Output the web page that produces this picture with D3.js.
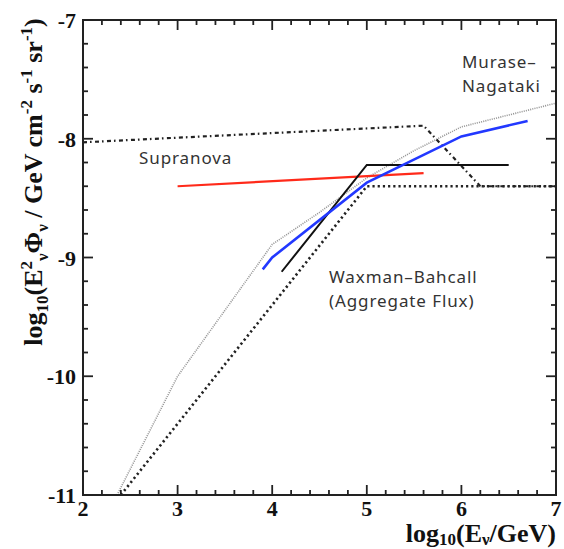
<!DOCTYPE html>
<meta charset="utf-8">
<script src="https://d3js.org/d3.v7.min.js"></script>
<style>
  body { margin: 0; background: #fff; }
  .tick-label { font-family: "Liberation Serif", "Times New Roman", serif; font-weight: bold; font-size: 22px; fill: #111; }
  .axis-title { font-family: "Liberation Serif", "Times New Roman", serif; font-weight: bold; font-size: 26px; fill: #111; }
  .note { font-family: "Noto Sans", "DejaVu Sans", sans-serif; font-size: 17px; letter-spacing: 0.9px; fill: #333; }
</style>
<div id="chart"></div>
<script>
// model curves: [log10 E/GeV, log10 E^2 flux]
var supranova = [[2, -8.03], [5.6, -7.89], [6.2, -8.40], [7, -8.40]]
var waxmanBahcall = [[2.4, -11], [5, -8.40], [7, -8.40]]
var muraseNagataki = [[2.36, -11], [3, -10], [4, -8.89], [4.5, -8.62], [5, -8.33], [5.5, -8.10], [6, -7.90], [7, -7.70]]
var blueLimit = [[3.9, -9.10], [4, -9.0], [5, -8.37], [6, -7.98], [6.7, -7.85]]
var blackLimit = [[4.1, -9.12], [5, -8.22], [6.5, -8.22]]
var redLimit = [[3, -8.40], [5.6, -8.29]]

var xTicks = [2, 3, 4, 5, 6, 7]
var yTicks = [-7, -8, -9, -10, -11]

var W = 564, H = 549
var x = d3.scaleLinear().domain([2, 7]).range([83, 556])
var y = d3.scaleLinear().domain([-11, -7]).range([495, 20])

var svg = d3.select("#chart").append("svg")
  .attr("width", W).attr("height", H)

svg.append("defs").append("clipPath").attr("id", "plot")
  .append("rect").attr("x", x(2)).attr("y", y(-7))
  .attr("width", x(7) - x(2)).attr("height", y(-11) - y(-7))

var line = d3.line().x(d => x(d[0])).y(d => y(d[1]))
var g = svg.append("g").attr("clip-path", "url(#plot)")

function curve(data, color, width, dash, cap) {
  g.append("path").datum(data)
    .attr("fill", "none")
    .attr("stroke", color)
    .attr("stroke-width", width)
    .attr("stroke-dasharray", dash)
    .attr("stroke-linecap", cap || "butt")
    .attr("d", line)
}

curve(muraseNagataki, "#999", 1.6, "1.1,1.1")
curve(waxmanBahcall, "#222", 2.6, "2.2,3")
curve(supranova, "#222", 2.2, "4,3,1.6,3.4")
curve(redLimit, "#ff2a1a", 2.2, null)
curve(blackLimit, "#111", 2, null)
curve(blueLimit, "#2238ff", 2.6, null)

// frame
svg.append("rect").attr("x", x(2)).attr("y", y(-7))
  .attr("width", x(7) - x(2)).attr("height", y(-11) - y(-7))
  .attr("fill", "none").attr("stroke", "#222").attr("stroke-width", 2)

// ticks on all four sides, pointing in
var xMinor = d3.range(2, 7.001, 0.2)
var yMinor = d3.range(-11, -6.999, 0.2)
var tk = svg.append("g").attr("stroke", "#222").attr("stroke-width", 1.8)
xMinor.forEach(function(v, i) {
  var len = i % 5 == 0 ? 10 : 5
  tk.append("line").attr("x1", x(v)).attr("x2", x(v)).attr("y1", y(-11)).attr("y2", y(-11) - len)
  tk.append("line").attr("x1", x(v)).attr("x2", x(v)).attr("y1", y(-7)).attr("y2", y(-7) + len)
})
yMinor.forEach(function(v, i) {
  var len = i % 5 == 0 ? 10 : 5
  tk.append("line").attr("y1", y(v)).attr("y2", y(v)).attr("x1", x(2)).attr("x2", x(2) + len)
  tk.append("line").attr("y1", y(v)).attr("y2", y(v)).attr("x1", x(7)).attr("x2", x(7) - len)
})

svg.selectAll(".xl").data(xTicks).enter().append("text")
  .attr("class", "tick-label").attr("text-anchor", "middle")
  .attr("x", d => x(d)).attr("y", 516).text(d => d)
svg.selectAll(".yl").data(yTicks).enter().append("text")
  .attr("class", "tick-label").attr("text-anchor", "end")
  .attr("x", 76).attr("y", d => y(d) + 8).text(d => d)

// rich text helper: parts are [text, "sup"|"sub"|null]
function rich(sel, parts, subShift) {
  var shift = 0
  parts.forEach(function(p) {
    var target = p[1] == "sup" ? -10 : p[1] == "sub" ? subShift : 0
    var t = sel.append("tspan").attr("dy", target - shift).text(p[0])
    if (p[1]) t.style("font-size", "17px")
    shift = target
  })
}

var xt = svg.append("text").attr("class", "axis-title")
  .attr("text-anchor", "end").attr("x", 556).attr("y", 542)
rich(xt, [["log", null], ["10", "sub"], ["(E", null], ["ν", "sub"], ["/GeV)", null]], 3)

var yt = svg.append("text").attr("class", "axis-title")
  .attr("text-anchor", "middle")
  .attr("transform", "translate(42,182) rotate(-90)")
rich(yt, [["log", null], ["10", "sub"], ["(E", null], ["2", "sup"], ["ν", "sub"], ["Φ", null], ["ν", "sub"],
  [" / GeV cm", null], ["-2", "sup"], [" s", null], ["-1", "sup"], [" sr", null], ["-1", "sup"], [")", null]], 6)

// curve labels
svg.append("text").attr("class", "note").attr("x", 139).attr("y", 164).text("Supranova")
svg.append("text").attr("class", "note").attr("x", 462).attr("y", 68).text("Murase\u2013")
svg.append("text").attr("class", "note").attr("x", 462).attr("y", 92).text("Nagataki")
svg.append("text").attr("class", "note").attr("x", 329).attr("y", 283).text("Waxman\u2013Bahcall")
svg.append("text").attr("class", "note").attr("x", 329).attr("y", 307).text("(Aggregate Flux)")
</script>
